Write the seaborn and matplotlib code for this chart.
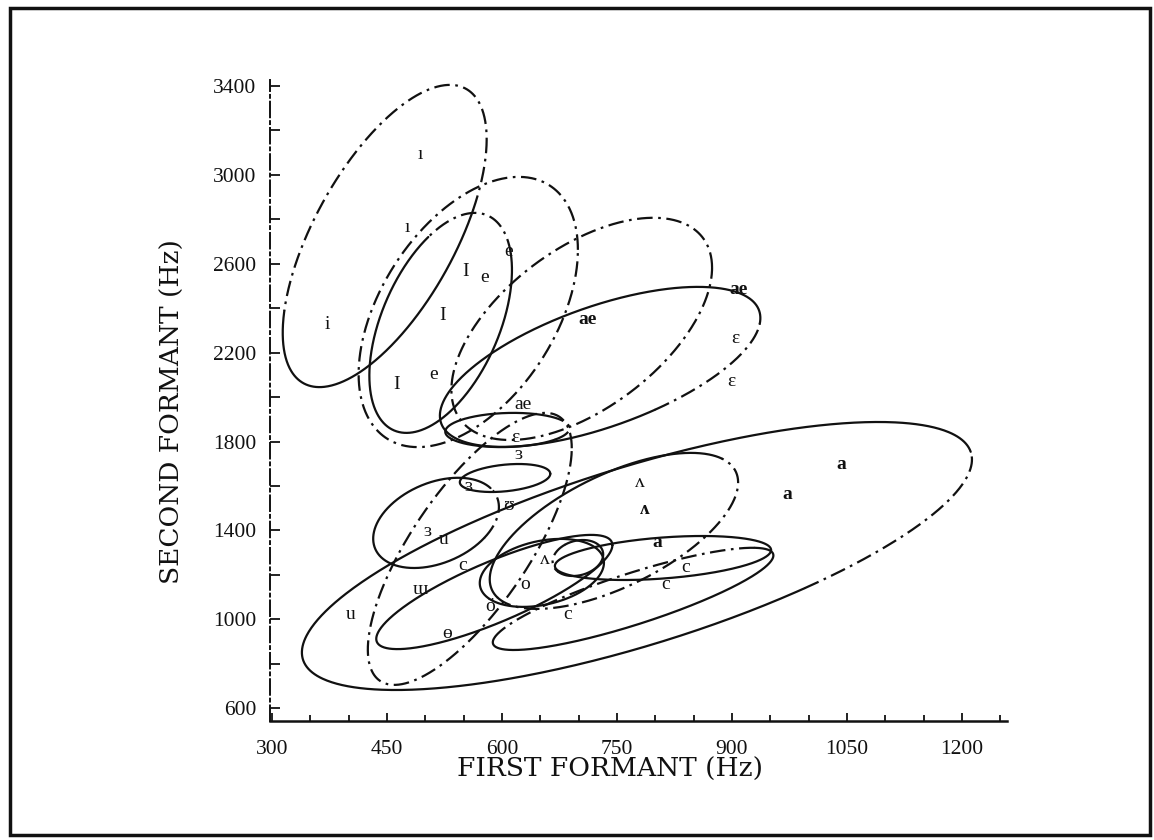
import numpy as np
import pandas as pd
import matplotlib
matplotlib.use("Agg")
import matplotlib.pyplot as plt
from matplotlib.patches import Rectangle
import seaborn as sns

# Vowel regions in the F1/F2 plane: centre, half-range on each axis, and
# the F1-F2 correlation that sets the tilt of each ellipse.
region_f1 = [447, 556, 520, 704, 728, 607, 558, 514, 590, 652, 699, 746, 810, 771, 776, 604]
region_f2 = [2725, 2383, 2334, 2307, 2136, 1852, 1317, 1434, 1123, 1209, 1276, 1398, 1276, 1092, 1285, 1636]
region_df1 = [133, 143, 93, 170, 209, 81, 133, 82, 154, 81, 33, 162, 141, 183, 437, 59]
region_df2 = [680, 608, 495, 500, 360, 77, 612, 203, 257, 153, 81, 351, 99, 230, 603, 63]
region_corr = [0.64, 0.46, 0.48, 0.55, 0.61, 0.10, 0.74, 0.35, 0.82, 0.30, 0.20, 0.62, 0.36, 0.85, 0.72, 0.30]
# Arc (in degrees of the ellipse parameter) drawn dash-dotted; the rest is solid.
dash_from = [-30, 0, 10, 0, -70, -40, 0, -40, 0, 0, 120, -160, 0, 30, -60, 0]
dash_to = [170, 360, 100, 360, -5, 30, 360, 30, 0, 0, 220, 30, 0, 170, 5, 0]

# Individual vowel tokens
token_text = ["ı", "ı", "i", "I", "e", "e", "I", "e", "I",
              "ae", "ae", "ɛ", "ɛ", "ae", "ɛ", "ɜ",
              "ɜ", "ʊ", "ɜ", "u", "c", "ɯ", "u", "ɵ", "ö", "o", "ʌ", "c",
              "ʌ", "ʌ", "a", "c", "c", "a", "a"]
token_f1 = [493, 476, 372, 552, 577, 608, 522, 511, 462,
            908, 712, 904, 899, 627, 618, 622,
            557, 608, 503, 524, 548, 494, 402, 528, 584, 630, 656, 685,
            780, 786, 803, 839, 813, 972, 1042]
token_f2 = [3090, 2761, 2325, 2563, 2536, 2653, 2365, 2100, 2055,
            2482, 2347, 2262, 2068, 1965, 1820, 1740,
            1596, 1510, 1393, 1357, 1240, 1136, 1020, 934, 1056, 1155, 1267, 1020,
            1614, 1492, 1344, 1231, 1155, 1560, 1695]
token_bold = [False] * 9 + [True, True, False, False, False, False, False,
              False, False, False, False, False, False, False, False, False, False, False, False,
              False, True, True, False, False, True, True]

x_ticks = [300, 450, 600, 750, 900, 1050, 1200]
y_ticks = [600, 1000, 1400, 1800, 2200, 2600, 3000, 3400]

sns.set_theme(style="ticks")
plt.rcParams["font.family"] = ["Liberation Serif", "DejaVu Serif"]

fig = plt.figure(figsize=(11.54, 8.40), dpi=100)
ax = fig.add_axes([270 / 1154, 1 - 721 / 840, 737 / 1154, 641 / 840])

ink = "#111111"
lw = 1.6
dashdot = (0, (7, 2.5, 1.2, 2.5))


def ellipse_arc(i, t0, t1):
    t = np.radians(np.linspace(t0, t1, max(int(abs(t1 - t0)) * 2, 2)))
    r = region_corr[i]
    x = region_f1[i] + region_df1[i] * np.cos(t)
    y = region_f2[i] + region_df2[i] * (r * np.cos(t) + np.sqrt(1 - r * r) * np.sin(t))
    return pd.DataFrame({"F1": x, "F2": y})


for i in range(len(region_f1)):
    a, b = dash_from[i], dash_to[i]
    if b - a > 0:
        seg = ellipse_arc(i, a, b)
        sns.lineplot(data=seg, x="F1", y="F2", sort=False, estimator=None,
                     color=ink, linewidth=lw, linestyle=dashdot, ax=ax)
    if b - a < 360:
        seg = ellipse_arc(i, b, a + 360)
        sns.lineplot(data=seg, x="F1", y="F2", sort=False, estimator=None,
                     color=ink, linewidth=lw, linestyle="-", ax=ax)

for txt, f1, f2, bold in zip(token_text, token_f1, token_f2, token_bold):
    ax.text(f1, f2, txt, ha="center", va="center", fontsize=14, color=ink,
            fontweight="bold" if bold else "normal")

ax.set_xlim(297.4, 1258.7)
ax.set_ylim(542.5, 3427)
ax.set_xticks(x_ticks)
ax.set_xticks(np.arange(300, 1251, 50), minor=True)
ax.set_yticks(y_ticks)
ax.set_yticks(np.arange(600, 3401, 200), minor=True)
ax.tick_params(axis="both", which="both", direction="in", color=ink, width=1.3,
               labelsize=15.5, labelcolor=ink)
ax.tick_params(axis="y", which="both", length=7, pad=10)
ax.tick_params(axis="x", which="major", length=6, pad=14)
ax.tick_params(axis="x", which="minor", length=4)

for side in ("top", "right"):
    ax.spines[side].set_visible(False)
ax.spines["left"].set_linewidth(1.4)
ax.spines["left"].set_linestyle((0, (8, 2, 1.5, 2)))
ax.spines["bottom"].set_linewidth(1.8)
ax.spines["left"].set_color(ink)
ax.spines["bottom"].set_color(ink)
ax.set_facecolor("white")

ax.set_xlabel("FIRST FORMANT (Hz)", fontsize=19, color=ink, family="DejaVu Serif")
ax.set_ylabel("SECOND FORMANT (Hz)", fontsize=19, color=ink, family="DejaVu Serif")
ax.xaxis.set_label_coords(0.461, -0.076)
ax.yaxis.set_label_coords(-0.133, 0.482)
ax.xaxis.label.set_va("center")
ax.yaxis.label.set_va("center")

fig.patches.append(Rectangle((10 / 1154, 5 / 840), 1140 / 1154, 827 / 840,
                             transform=fig.transFigure, fill=False,
                             edgecolor=ink, linewidth=2.5))

fig.savefig("out.png", dpi=100, facecolor="white")
